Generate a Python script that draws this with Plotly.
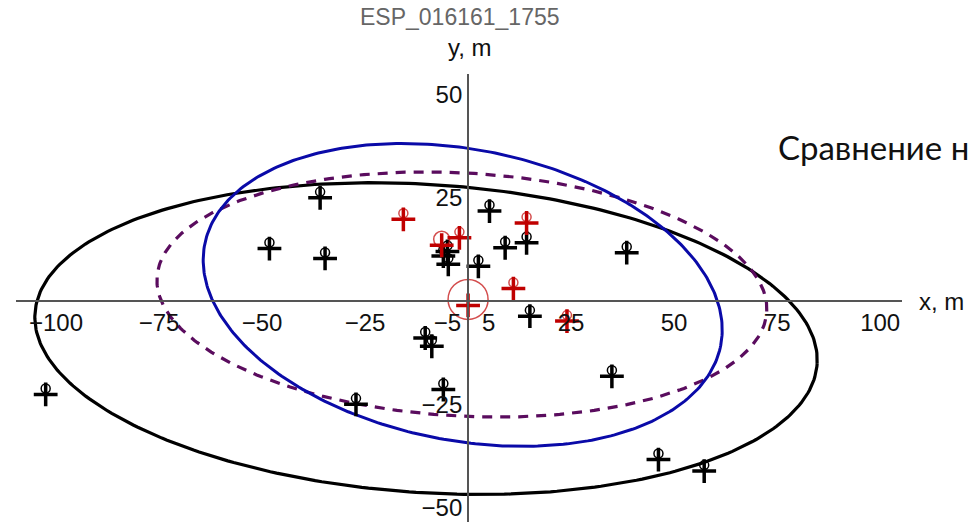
import numpy as np
import plotly.graph_objects as go

# ---- data ----
title_text = "ESP_016161_1755"
side_text = "Сравнение н"

x_ticks = [-100, -75, -50, -25, -5, 5, 25, 50, 75, 100]
x_ticktext = ["−100", "−75", "−50", "−25", "−5", "5", "25", "50", "75", "100"]
y_ticks = [-50, -25, 25, 50]
y_ticktext = ["−50", "−25", "25", "50"]

# black points (circle centres)
black_x = [-35.9, -48.2, -34.7, 5.2, 9.0, 14.2, 2.5, -6.0, -5.0, -4.8, 15.0, 38.5,
           -10.4, -8.8, -6.0, 34.9, 46.2, 57.3, -102.5, -27.2]
black_y = [26.5, 14.2, 11.8, 23.3, 14.4, 15.6, 9.9, 12.4, 13.5, 10.4, -2.2, 13.2,
           -7.5, -9.5, -20.0, -16.8, -37.0, -39.8, -21.2, -23.6]

# red points (circle centres) and their circle sizes
red_x = [-15.7, -6.4, -2.1, 14.2, 11.0, 24.0, 0.0]
red_y = [21.3, 15.0, 16.8, 20.4, 4.5, -3.4, 0.4]
red_circle = [9, 16, 9, 9, 9, 9, 40]

# ellipses: centre x, centre y, semi-major, semi-minor, angle (deg)
ell_black = [-10.2, -9.1, 95.1, 37.4, -3.7]
ell_blue = [-1.3, 1.5, 63.8, 35.3, -11.1]
ell_purple = [-1.5, 1.6, 74.1, 29.5, -3.2]


def ellipse(p, n=361):
    cx, cy, a, b, ang = p
    t = np.linspace(0, 2 * np.pi, n)
    th = np.deg2rad(ang)
    x = cx + a * np.cos(t) * np.cos(th) - b * np.sin(t) * np.sin(th)
    y = cy + a * np.cos(t) * np.sin(th) + b * np.sin(t) * np.cos(th)
    return x, y


fig = go.Figure()

for p, col, dash, w in [(ell_black, "#000000", "solid", 3.2),
                        (ell_purple, "#5a0c5e", "10px,8px", 3.2),
                        (ell_blue, "#0a0aa8", "solid", 3)]:
    ex, ey = ellipse(p)
    fig.add_trace(go.Scatter(x=ex, y=ey, mode="lines",
                             line=dict(color=col, width=w, dash=dash),
                             hoverinfo="skip", showlegend=False))

# black markers
fig.add_trace(go.Scatter(x=black_x, y=black_y, mode="markers",
                         marker=dict(symbol="circle-open", size=9, color="#000",
                                     line=dict(width=1.5, color="#000")),
                         showlegend=False))
fig.add_trace(go.Scatter(x=black_x, y=black_y, mode="markers",
                         marker=dict(symbol="cross-thin-open", size=17, color="#000",
                                     angle=0, standoff=6,
                                     line=dict(width=3.5, color="#000")),
                         showlegend=False))
# red markers
fig.add_trace(go.Scatter(x=red_x, y=red_y, mode="markers",
                         marker=dict(symbol="circle-open", size=red_circle, color="#c00000",
                                     line=dict(width=1.5, color="#c00000")),
                         showlegend=False))
fig.add_trace(go.Scatter(x=red_x, y=red_y, mode="markers",
                         marker=dict(symbol="cross-thin-open", size=17, color="#c00000",
                                     angle=0, standoff=6,
                                     line=dict(width=3.5, color="#c00000")),
                         showlegend=False))

xr = [-109.7, 105.3]
yr = [-53.6, 55.1]
axis_font = dict(family="Liberation Sans, Arial, sans-serif", size=24, color="#111")

fig.update_layout(
    width=968, height=522,
    margin=dict(l=16, r=66, t=74, b=0),
    paper_bgcolor="white", plot_bgcolor="white",
    xaxis=dict(range=xr, anchor="free", position=(0 - yr[0]) / (yr[1] - yr[0]),
               showline=True, linecolor="#555", linewidth=2, showgrid=False,
               zeroline=False, ticks="", tickvals=x_ticks, ticktext=x_ticktext,
               tickfont=axis_font),
    yaxis=dict(range=yr, anchor="free", position=(0 - xr[0]) / (xr[1] - xr[0]),
               showline=True, linecolor="#555", linewidth=2, showgrid=False,
               zeroline=False, ticks="", tickvals=y_ticks, ticktext=y_ticktext,
               tickfont=axis_font),
    annotations=[
        dict(text=title_text, xref="paper", yref="paper", x=(460 - 16) / 886, y=1,
             yshift=57, showarrow=False, xanchor="center", yanchor="middle",
             font=dict(family="Liberation Sans, Arial, sans-serif", size=23, color="#666")),
        dict(text="y, m", xref="paper", yref="paper", x=(470 - 16) / 886, y=1,
             yshift=27, showarrow=False, xanchor="center", yanchor="middle",
             font=axis_font),
        dict(text="x, m", xref="paper", yref="paper", x=(917 - 16) / 886,
             y=(0 - yr[0]) / (yr[1] - yr[0]), showarrow=False, xanchor="left",
             yanchor="middle", font=axis_font),
        dict(text=side_text, xref="paper", yref="paper", x=(776 - 16) / 886,
             y=1, yshift=-73, showarrow=False, xanchor="left", yanchor="middle",
             font=dict(family="Lato, Carlito, sans-serif", size=33, color="#111")),
    ],
)

fig.write_html("out.html")
